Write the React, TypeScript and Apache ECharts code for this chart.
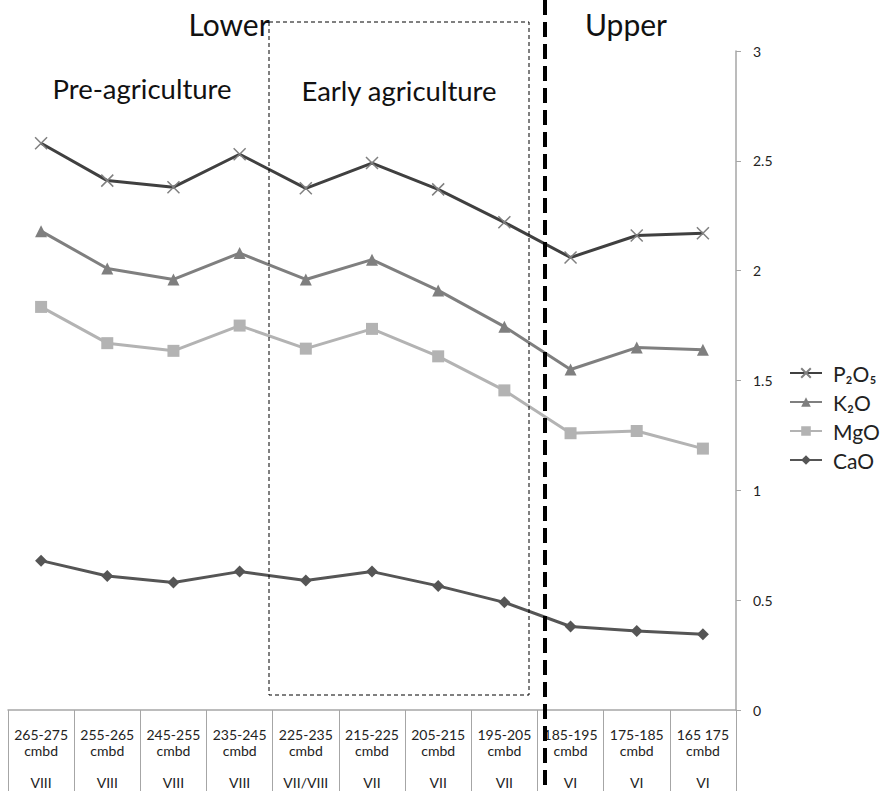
import React, { useEffect, useRef } from "react";
import * as echarts from "echarts";

const categories = [
  "265-275\ncmbd\n\nVIII",
  "255-265\ncmbd\n\nVIII",
  "245-255\ncmbd\n\nVIII",
  "235-245\ncmbd\n\nVIII",
  "225-235\ncmbd\n\nVII/VIII",
  "215-225\ncmbd\n\nVII",
  "205-215\ncmbd\n\nVII",
  "195-205\ncmbd\n\nVII",
  "185-195\ncmbd\n\nVI",
  "175-185\ncmbd\n\nVI",
  "165 175\ncmbd\n\nVI",
];
const p2o5 = [2.58, 2.41, 2.38, 2.53, 2.375, 2.49, 2.37, 2.22, 2.06, 2.16, 2.17];
const k2o = [2.18, 2.01, 1.96, 2.08, 1.96, 2.05, 1.91, 1.745, 1.55, 1.65, 1.64];
const mgo = [1.835, 1.67, 1.635, 1.75, 1.645, 1.735, 1.61, 1.455, 1.26, 1.27, 1.19];
const cao = [0.68, 0.61, 0.58, 0.63, 0.59, 0.63, 0.565, 0.49, 0.38, 0.36, 0.345];
const seriesNames = ["P₂O₅", "K₂O", "MgO", "CaO"];

export default function App() {
  const ref = useRef<HTMLDivElement>(null);
  useEffect(() => {
    document.body.style.margin = "0";
    const chart = echarts.init(ref.current!, undefined, { renderer: "svg" });
    const font = "Lato, 'Open Sans', sans-serif";
    chart.setOption({
      animation: false,
      backgroundColor: "#fff",
      textStyle: { fontFamily: font },
      grid: { left: 8, right: 145, top: 51, bottom: 81 },
      legend: {
        orient: "vertical",
        left: 789,
        top: 362,
        itemWidth: 32,
        itemHeight: 12,
        itemGap: 7,
        padding: 0,
        textStyle: { fontSize: 21, lineHeight: 22, color: "#222", fontFamily: font, padding: [0, 0, 0, 6] },
        data: seriesNames,
      },
      xAxis: {
        type: "category",
        data: categories,
        boundaryGap: true,
        axisLine: { lineStyle: { color: "#a6a6a6", width: 1.5 } },
        axisTick: {
          show: true,
          interval: 0,
          length: 81,
          lineStyle: { color: "#a6a6a6" },
        },
        axisLabel: {
          interval: 0,
          fontSize: 14,
          lineHeight: 16,
          color: "#222",
          margin: 16,
          fontFamily: font,
        },
      },
      yAxis: {
        type: "value",
        position: "right",
        min: 0,
        max: 3,
        interval: 0.5,
        splitLine: { show: false },
        axisLine: { show: true, lineStyle: { color: "#a6a6a6", width: 1.5 } },
        axisTick: { show: true, length: 5, lineStyle: { color: "#a6a6a6" } },
        axisLabel: { fontSize: 14, color: "#222", margin: 17, fontFamily: font },
      },
      series: [
        {
          name: seriesNames[0],
          type: "line",
          data: p2o5,
          symbol: "path://M0,0L10,10M10,0L0,10",
          symbolSize: 12,
          lineStyle: { color: "#404040", width: 3 },
          itemStyle: { color: "rgba(0,0,0,0)", borderColor: "#808080", borderWidth: 1.5 },
        },
        {
          name: seriesNames[1],
          type: "line",
          data: k2o,
          symbol: "triangle",
          symbolSize: 12,
          lineStyle: { color: "#7f7f7f", width: 3 },
          itemStyle: { color: "#7f7f7f" },
        },
        {
          name: seriesNames[2],
          type: "line",
          data: mgo,
          symbol: "rect",
          symbolSize: 12,
          lineStyle: { color: "#b3b3b3", width: 3 },
          itemStyle: { color: "#b3b3b3" },
        },
        {
          name: seriesNames[3],
          type: "line",
          data: cao,
          symbol: "diamond",
          symbolSize: 12,
          lineStyle: { color: "#555555", width: 3 },
          itemStyle: { color: "#555555" },
        },
      ],
      graphic: [
        {
          type: "rect",
          shape: { x: 269, y: 22, width: 260, height: 673 },
          style: { fill: "none", stroke: "#000", lineWidth: 1, lineDash: [4, 3] },
          z: 10,
        },
        {
          type: "line",
          shape: { x1: 545, y1: 0, x2: 545, y2: 791 },
          style: { stroke: "#000", lineWidth: 4, lineDash: [15, 7] },
          z: 10,
        },
        {
          type: "text",
          x: 229,
          y: 24,
          style: { text: "Lower", fontSize: 30, fill: "#111", align: "center", verticalAlign: "middle", fontFamily: font },
        },
        {
          type: "text",
          x: 626,
          y: 24,
          style: { text: "Upper", fontSize: 30, fill: "#111", align: "center", verticalAlign: "middle", fontFamily: font },
        },
        {
          type: "text",
          x: 142,
          y: 88,
          style: { text: "Pre-agriculture", fontSize: 27.5, fill: "#111", align: "center", verticalAlign: "middle", fontFamily: font },
        },
        {
          type: "text",
          x: 399,
          y: 90,
          style: { text: "Early agriculture", fontSize: 27.5, fill: "#111", align: "center", verticalAlign: "middle", fontFamily: font },
        },
      ],
    });
    return () => chart.dispose();
  }, []);
  return <div ref={ref} style={{ width: 881, height: 791 }} />;
}
